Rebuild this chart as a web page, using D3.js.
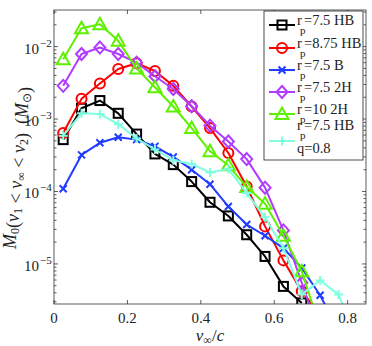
<!DOCTYPE html>
<html lang="en">
<head>
<script src="https://d3js.org/d3.v7.min.js"></script>
<style>
  body { margin: 0; background: #fff; }
</style>
</head>
<body>
<div id="chart"></div>
<script>
// bin centres of v_inf/c
var xBins = [0.025, 0.075, 0.125, 0.175, 0.225, 0.275, 0.325, 0.375, 0.425,
             0.475, 0.525, 0.575, 0.625, 0.675, 0.725, 0.775, 0.825];

var black  = [5.2e-4, 1.41e-3, 1.8e-3, 1.2e-3, 6.2e-4, 3.3e-4, 2.35e-4, 1.37e-4, 7.1e-5,
              4.6e-5, 2.53e-5, 1.27e-5, 4.9e-6, 2.9e-6];
var red    = [6.4e-4, 1.9e-3, 3.1e-3, 4.9e-3, 5.9e-3, 4.6e-3, 2.87e-3, 1.49e-3, 7.5e-4,
              3.4e-4, 1.17e-4, 3.3e-5, 1.12e-5, 4.2e-6, 2.0e-6];
var blue   = [1.09e-4, 3.2e-4, 4.7e-4, 5.6e-4, 5.2e-4, 4.2e-4, 3.0e-4, 2.0e-4, 1.26e-4,
              6.2e-5, 3.5e-5, 2.45e-5, 1.65e-5, 8.8e-6, 3.7e-6, 1.2e-6];
var purple = [2.87e-3, 7.9e-3, 9.7e-3, 7.9e-3, 6.0e-3, 3.9e-3, 2.6e-3, 1.5e-3, 8.1e-4,
              4.9e-4, 2.8e-4, 1.13e-4, 2.9e-5, 5.5e-6, 1.0e-6];
var green  = [6.7e-3, 1.79e-2, 2.04e-2, 1.2e-2, 5.0e-3, 2.75e-3, 1.49e-3, 7.5e-4, 3.6e-4,
              2.3e-4, 1.15e-4, 6.8e-5, 2.45e-5, 7.9e-6, 1.3e-6];
var cyan   = [5.9e-4, 1.2e-3, 1.17e-3, 8.5e-4, 5.4e-4, 3.8e-4, 2.7e-4, 2.4e-4, 1.83e-4,
              2.05e-4, 9.5e-5, 4.4e-5, 1.65e-5, 3.8e-6, 5.9e-6, 3.8e-6, 9e-7];

var seriesNames = ["=7.5 HB", "=8.75 HB", "=7.5 B", "=7.5 2H", "=10 2H", "=7.5 HB"];
var xTicks = [0, 0.2, 0.4, 0.6, 0.8];
var yTicks = [1e-5, 1e-4, 1e-3, 1e-2];
var yTickExp = ["\u22125", "\u22124", "\u22123", "\u22122"];

var series = [
  {vals: black,  color: "#000000", marker: "square"},
  {vals: red,    color: "#ff0000", marker: "circle"},
  {vals: blue,   color: "#1f3cff", marker: "x"},
  {vals: purple, color: "#b03cff", marker: "diamond"},
  {vals: green,  color: "#5ff000", marker: "triangle"},
  {vals: cyan,   color: "#80ffe0", marker: "plus"}
];

var W = 372, H = 346;
var pL = 54, pR = 366, pT = 10, pB = 304;

var svg = d3.select("#chart").append("svg")
  .attr("width", W).attr("height", H)
  .attr("font-family", "'Liberation Serif', 'Times New Roman', serif")
  .attr("fill", "#222");

var x = d3.scaleLinear().domain([0, 0.85]).range([pL, pR]);
var y = d3.scaleLog().domain([2.8e-6, 3.2e-2]).range([pB, pT]);

svg.append("clipPath").attr("id", "clip")
  .append("rect").attr("x", pL).attr("y", pT)
  .attr("width", pR - pL).attr("height", pB - pT);

// ticks (inward, on all four sides)
var minor = [];
for (var e = -6; e <= -2; e++) {
  for (var m = 2; m <= 9; m++) {
    var v = m * Math.pow(10, e);
    if (v > 2.8e-6 && v < 3.2e-2) minor.push(v);
  }
}
var tk = svg.append("g").attr("stroke", "#333").attr("stroke-width", 0.8);
xTicks.forEach(function(t) {
  tk.append("line").attr("x1", x(t)).attr("x2", x(t)).attr("y1", pB).attr("y2", pB - 4);
  tk.append("line").attr("x1", x(t)).attr("x2", x(t)).attr("y1", pT).attr("y2", pT + 4);
});
yTicks.forEach(function(t) {
  tk.append("line").attr("x1", pL).attr("x2", pL + 4).attr("y1", y(t)).attr("y2", y(t));
  tk.append("line").attr("x1", pR).attr("x2", pR - 4).attr("y1", y(t)).attr("y2", y(t));
});
minor.forEach(function(t) {
  tk.append("line").attr("x1", pL).attr("x2", pL + 2.5).attr("y1", y(t)).attr("y2", y(t));
  tk.append("line").attr("x1", pR).attr("x2", pR - 2.5).attr("y1", y(t)).attr("y2", y(t));
});

// tick labels
svg.append("g").selectAll("text").data(xTicks).enter().append("text")
  .attr("x", function(d) { return x(d); })
  .attr("y", 323)
  .attr("text-anchor", "middle")
  .attr("font-size", 15)
  .text(function(d) { return d === 0 ? "0" : d.toFixed(1); });

yTicks.forEach(function(t, i) {
  svg.append("text").attr("x", 39).attr("y", y(t) + 7)
    .attr("text-anchor", "end").attr("font-size", 15).text("10");
  svg.append("text").attr("x", 40).attr("y", y(t))
    .attr("font-size", 11).text(yTickExp[i]);
});

// axis labels
var xl = svg.append("text").attr("x", 210).attr("y", 341)
  .attr("text-anchor", "middle").attr("font-size", 17);
xl.append("tspan").attr("font-style", "italic").text("v");
xl.append("tspan").attr("font-size", 12).attr("dy", 3).text("\u221e");
xl.append("tspan").attr("dy", -3).text("/");
xl.append("tspan").attr("font-style", "italic").text("c");

var yl = svg.append("text")
  .attr("transform", "translate(16,168) rotate(-90)")
  .attr("text-anchor", "middle").attr("font-size", 18);
function part(txt, it) { yl.append("tspan").attr("font-style", it ? "italic" : "normal").text(txt); }
function sub(txt) {
  yl.append("tspan").attr("font-size", 12).attr("dy", 3).text(txt);
  yl.append("tspan").attr("dy", -3).text("");
}
part("M", true); sub("0"); part("(", false); part("v", true); sub("1");
part("\u00a0<\u00a0", false); part("v", true); sub("\u221e"); part("\u00a0<\u00a0", false);
part("v", true); sub("2"); part(")\u00a0\u00a0(", false); part("M", true); sub("\u2299"); part(")", false);

// markers
function drawMarker(g, kind, cx, cy, color) {
  var s;
  if (kind === "square") {
    g.append("rect").attr("x", cx - 4.5).attr("y", cy - 4.5).attr("width", 9).attr("height", 9)
      .attr("fill", "none").attr("stroke", color).attr("stroke-width", 2);
  } else if (kind === "circle") {
    g.append("circle").attr("cx", cx).attr("cy", cy).attr("r", 5)
      .attr("fill", "none").attr("stroke", color).attr("stroke-width", 2);
  } else if (kind === "diamond") {
    g.append("path").attr("d", "M" + cx + "," + (cy - 6) + "L" + (cx + 5.5) + "," + cy + "L" + cx + "," + (cy + 6) + "L" + (cx - 5.5) + "," + cy + "Z")
      .attr("fill", "none").attr("stroke", color).attr("stroke-width", 2);
  } else if (kind === "triangle") {
    g.append("path").attr("d", "M" + cx + "," + (cy - 6.5) + "L" + (cx + 6.5) + "," + (cy + 5) + "L" + (cx - 6.5) + "," + (cy + 5) + "Z")
      .attr("fill", "none").attr("stroke", color).attr("stroke-width", 2);
  } else if (kind === "x") {
    s = 3.5;
    g.append("path").attr("d", "M" + (cx - s) + "," + (cy - s) + "L" + (cx + s) + "," + (cy + s) + "M" + (cx - s) + "," + (cy + s) + "L" + (cx + s) + "," + (cy - s))
      .attr("stroke", color).attr("stroke-width", 2);
  } else if (kind === "plus") {
    s = 4.5;
    g.append("path").attr("d", "M" + (cx - s) + "," + cy + "L" + (cx + s) + "," + cy + "M" + cx + "," + (cy - s) + "L" + cx + "," + (cy + s))
      .attr("stroke", color).attr("stroke-width", 2);
  }
}

var plot = svg.append("g").attr("clip-path", "url(#clip)");
var line = d3.line()
  .x(function(d, i) { return x(xBins[i]); })
  .y(function(d) { return y(d); });

series.forEach(function(s) {
  plot.append("path").datum(s.vals)
    .attr("d", line)
    .attr("fill", "none").attr("stroke", s.color).attr("stroke-width", 2)
    .attr("stroke-linejoin", "round");
  var mg = plot.append("g");
  s.vals.forEach(function(v, i) {
    drawMarker(mg, s.marker, x(xBins[i]), y(v), s.color);
  });
});

// axes box
svg.append("rect").attr("x", pL).attr("y", pT)
  .attr("width", pR - pL).attr("height", pB - pT)
  .attr("fill", "none").attr("stroke", "#333").attr("stroke-width", 0.8);

// legend
var lg = svg.append("g");
lg.append("rect").attr("x", 264).attr("y", 11).attr("width", 99).attr("height", 149)
  .attr("fill", "#fff").attr("stroke", "#222").attr("stroke-width", 0.8);
var legY = [25, 48, 70, 92, 114, 141];
series.forEach(function(s, i) {
  var ly = legY[i];
  lg.append("line").attr("x1", 269).attr("x2", 295).attr("y1", ly).attr("y2", ly)
    .attr("stroke", s.color).attr("stroke-width", 2);
  drawMarker(lg, s.marker, 282, ly, s.color);
  var ty = (i === 5) ? ly - 11 : ly;
  lg.append("text").attr("x", 297).attr("y", ty).attr("font-size", 14.5).text("r");
  lg.append("text").attr("x", 300).attr("y", ty + 9).attr("font-size", 11).text("p");
  lg.append("text").attr("x", 304).attr("y", ty).attr("font-size", 14.5).text(seriesNames[i]);
  if (i === 5) lg.append("text").attr("x", 297).attr("y", ty + 23).attr("font-size", 14.5).text("q=0.8");
});
</script>
</body>
</html>
